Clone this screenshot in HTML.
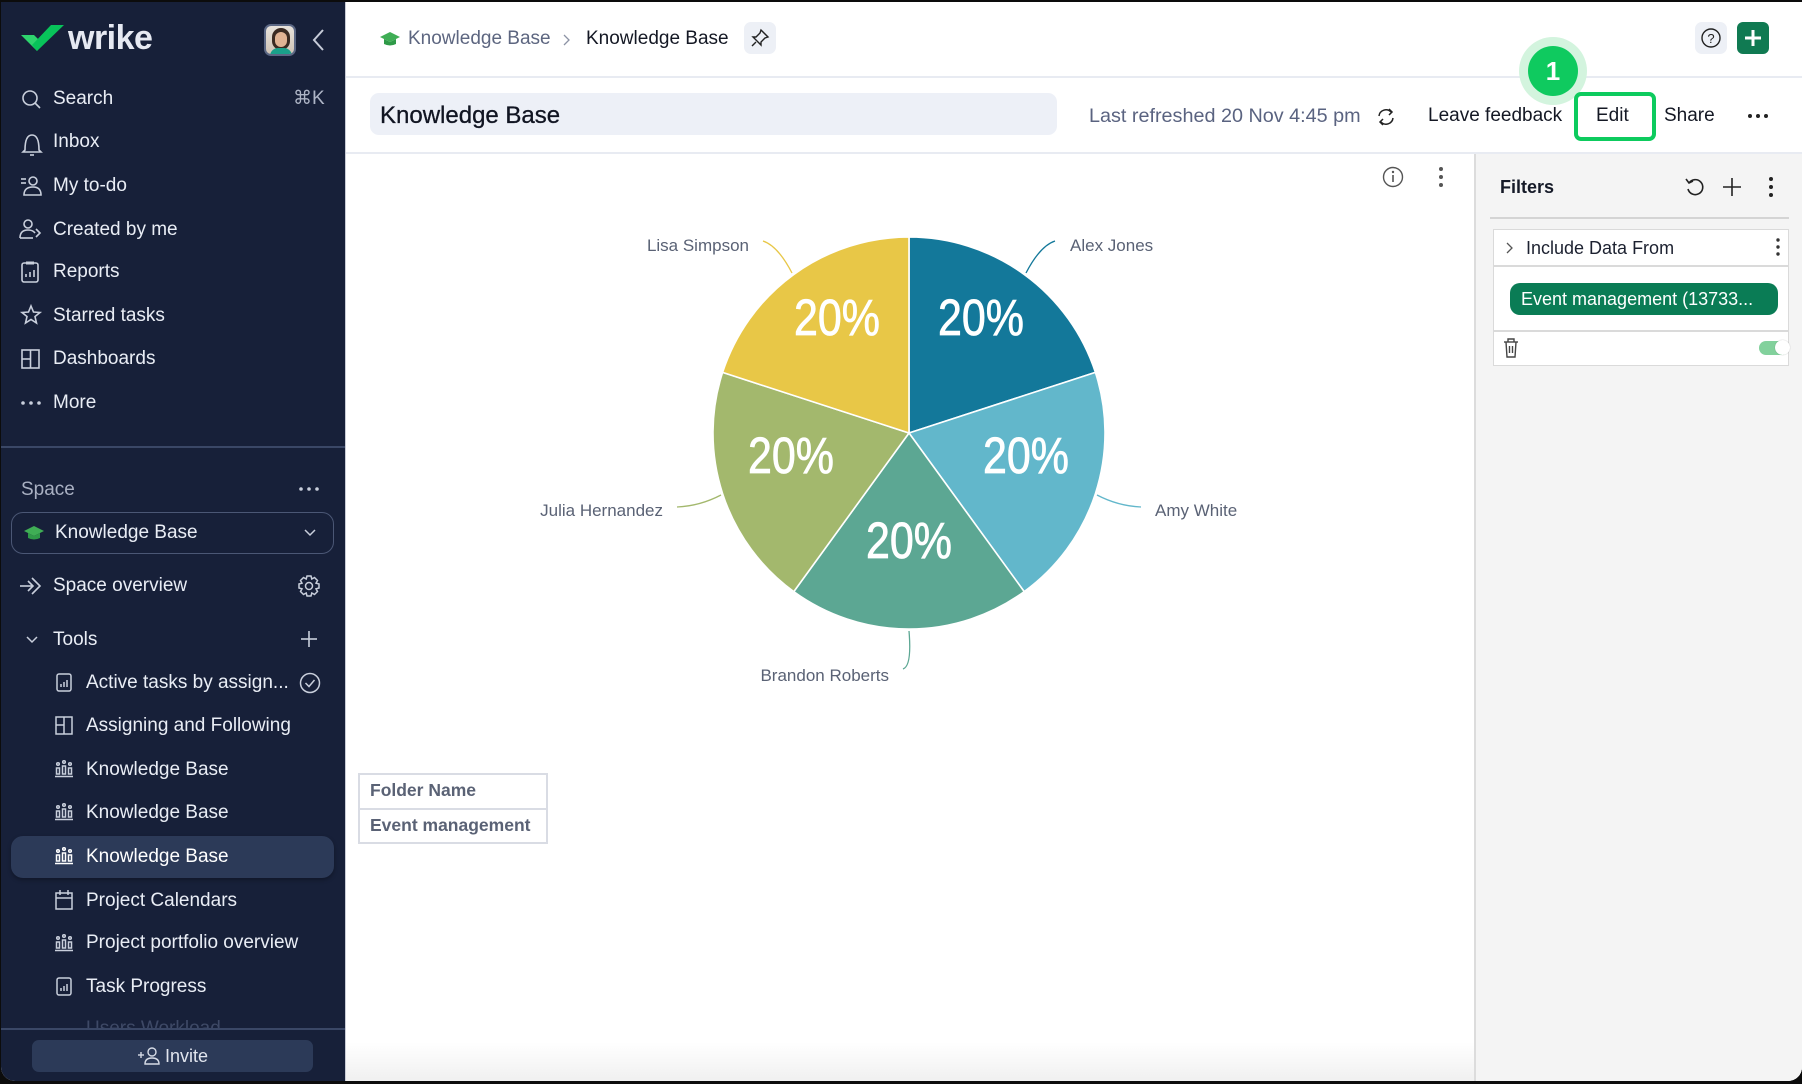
<!DOCTYPE html>
<html><head><meta charset="utf-8"><style>
*{margin:0;padding:0;box-sizing:border-box}
html,body{width:1802px;height:1084px;overflow:hidden;background:#0c0c0c;font-family:"Liberation Sans",sans-serif}
#app{position:absolute;left:1px;top:2px;width:1801px;height:1079px;background:#fff;border-radius:0 0 14px 14px;overflow:hidden}
#side{position:absolute;left:0;top:0;width:344px;height:1079px;background:#172039;color:#e9edf5}
.t{position:absolute;white-space:nowrap;height:24px;line-height:24px;font-size:19px}
.ic{position:absolute}
.sep{position:absolute;height:2px;background:#3a4766}
#main{position:absolute;left:344px;top:0;width:1457px;height:1079px;background:#fff;border-left:1px solid #c9ccd6}
</style></head><body>
<div id="app">
<div id="side">
  <svg class="ic" style="left:0;top:0" width="344" height="70">
    <polygon points="20,33 33,33 41,41 36,49" fill="#2ed46e"/>
    <polygon points="31,43 50,23 63,23 36,49" fill="#08c35a"/>
  </svg>
  <div class="t" style="left:67px;top:19px;height:34px;line-height:34px;font-size:34px;font-weight:bold;color:#e6e9f2;letter-spacing:-0.5px">wrike</div>
  <div class="ic" style="left:263px;top:22px;width:32px;height:32px;border-radius:7px;background:linear-gradient(#e8e3dc,#cfc3b5);border:2px solid #5b6784;overflow:hidden">
    <div style="position:absolute;left:6px;top:2px;width:18px;height:22px;border-radius:9px;background:#3a2a22"></div>
    <div style="position:absolute;left:9px;top:6px;width:12px;height:15px;border-radius:6px;background:#e0b394"></div>
    <div style="position:absolute;left:4px;top:22px;width:22px;height:10px;border-radius:8px 8px 0 0;background:#1aa08a"></div>
  </div>
  <svg class="ic" style="left:310px;top:26px" width="16" height="24"><polyline points="12,2 3,12 12,22" fill="none" stroke="#c6cbd8" stroke-width="2"/></svg>

  <!-- nav icons -->
  <svg class="ic" style="left:0;top:80px" width="60" height="340" fill="none" stroke="#c9cfdc" stroke-width="1.6">
    <circle cx="29" cy="16" r="7"/><line x1="34" y1="21" x2="39" y2="26"/>
    <path d="M24 68 Q24 53 31 53 Q38 53 38 68 L40 70 L22 70 Z"/><line x1="29" y1="73" x2="33" y2="73"/>
    <line x1="20" y1="97" x2="25" y2="97"/><line x1="20" y1="101" x2="25" y2="101"/><circle cx="32" cy="99" r="4"/><path d="M23 113 Q23 105 32 105 Q40 105 40 113 Z"/>
    <circle cx="27" cy="142" r="4"/><path d="M19 156 Q19 148 27 148 Q32 148 34 151"/><line x1="19" y1="156" x2="32" y2="156"/><polyline points="35,147 39,151 35,155"/>
    <rect x="21" y="181" width="16" height="19" rx="2"/><line x1="25" y1="195" x2="25" y2="192"/><line x1="29" y1="195" x2="29" y2="190"/><line x1="33" y1="195" x2="33" y2="188"/><line x1="25" y1="181" x2="33" y2="181" stroke-width="3"/>
    <polygon points="30,224 32.5,230 39,230.5 34,234.5 35.5,241 30,237.5 24.5,241 26,234.5 21,230.5 27.5,230"/>
    <rect x="21" y="268" width="17" height="18"/><line x1="29.5" y1="268" x2="29.5" y2="286"/><line x1="21" y1="277" x2="29.5" y2="277"/>
  </svg>
  <svg class="ic" style="left:0;top:395px" width="60" height="14"><circle cx="22" cy="6" r="1.8" fill="#c9cfdc"/><circle cx="30" cy="6" r="1.8" fill="#c9cfdc"/><circle cx="38" cy="6" r="1.8" fill="#c9cfdc"/></svg>
  <div class="t" style="left:52px;top:85px">Search</div>
  <div class="t" style="left:292px;top:85px;color:#aeb5c6">⌘K</div>
  <div class="t" style="left:52px;top:128px">Inbox</div>
  <div class="t" style="left:52px;top:172px">My to-do</div>
  <div class="t" style="left:52px;top:216px">Created by me</div>
  <div class="t" style="left:52px;top:258px">Reports</div>
  <div class="t" style="left:52px;top:302px">Starred tasks</div>
  <div class="t" style="left:52px;top:345px">Dashboards</div>
  <div class="t" style="left:52px;top:389px">More</div>
  <div class="sep" style="left:0;top:444px;width:344px"></div>

  <div class="t" style="left:20px;top:476px;color:#a9b0c2">Space</div>
  <svg class="ic" style="left:296px;top:482px" width="24" height="10"><circle cx="4" cy="5" r="1.8" fill="#c9cfdc"/><circle cx="12" cy="5" r="1.8" fill="#c9cfdc"/><circle cx="20" cy="5" r="1.8" fill="#c9cfdc"/></svg>
  <div class="ic" style="left:10px;top:510px;width:323px;height:42px;border:1.5px solid #4b5775;border-radius:12px"></div>
  <svg class="ic" style="left:22px;top:522px" width="22" height="18"><polygon points="11,2 21,7 11,12 1,7" fill="#3fae55"/><path d="M5 9 L5 14 Q11 17 17 14 L17 9 L11 12 Z" fill="#2f9a48"/></svg>
  <div class="t" style="left:54px;top:519px">Knowledge Base</div>
  <svg class="ic" style="left:302px;top:526px" width="14" height="10"><polyline points="2,2 7,7 12,2" fill="none" stroke="#c9cfdc" stroke-width="1.5"/></svg>

  <svg class="ic" style="left:18px;top:572px" width="26" height="24" fill="none" stroke="#c9cfdc" stroke-width="1.6"><line x1="1" y1="12" x2="14" y2="12"/><polyline points="9,7 14,12 9,17"/><path d="M13 4 L21 12 L13 20"/></svg>
  <div class="t" style="left:52px;top:572px">Space overview</div>
  <svg class="ic" style="left:297px;top:573px" width="22" height="22" fill="none" stroke="#c9cfdc" stroke-width="1.5"><circle cx="11" cy="11" r="3.5"/><path d="M9 1 L13 1 L13.8 4 L16.5 2.5 L19.5 5.5 L18 8.2 L21 9 L21 13 L18 13.8 L19.5 16.5 L16.5 19.5 L13.8 18 L13 21 L9 21 L8.2 18 L5.5 19.5 L2.5 16.5 L4 13.8 L1 13 L1 9 L4 8.2 L2.5 5.5 L5.5 2.5 L8.2 4 Z"/></svg>

  <svg class="ic" style="left:24px;top:633px" width="14" height="10"><polyline points="2,2 7,7 12,2" fill="none" stroke="#c9cfdc" stroke-width="1.5"/></svg>
  <div class="t" style="left:52px;top:626px">Tools</div>
  <svg class="ic" style="left:299px;top:628px" width="18" height="18"><line x1="9" y1="1" x2="9" y2="17" stroke="#c9cfdc" stroke-width="1.6"/><line x1="1" y1="9" x2="17" y2="9" stroke="#c9cfdc" stroke-width="1.6"/></svg>

  <div class="ic" style="left:10px;top:834px;width:323px;height:42px;background:#2c3a58;border-radius:12px;box-shadow:0 2px 4px rgba(0,0,0,.3)"></div>

  <svg class="ic" style="left:50px;top:660px" width="30" height="340" fill="none" stroke="#c9cfdc" stroke-width="1.5">
    <rect x="6" y="12" width="14" height="17" rx="2"/><line x1="10" y1="25" x2="10" y2="22"/><line x1="13" y1="25" x2="13" y2="20"/><line x1="16" y1="25" x2="16" y2="18"/>
    <rect x="5" y="55" width="16" height="17"/><line x1="13" y1="55" x2="13" y2="72"/><line x1="5" y1="63" x2="13" y2="63"/>
    <g transform="translate(0,98)"><circle cx="7" cy="4" r="1.3"/><circle cx="13" cy="2" r="1.3"/><circle cx="19" cy="4" r="1.3"/><rect x="5.5" y="8" width="3" height="6"/><rect x="11.5" y="6" width="3" height="8"/><rect x="17.5" y="8" width="3" height="6"/><line x1="4" y1="16.5" x2="22" y2="16.5"/></g>
    <g transform="translate(0,141)"><circle cx="7" cy="4" r="1.3"/><circle cx="13" cy="2" r="1.3"/><circle cx="19" cy="4" r="1.3"/><rect x="5.5" y="8" width="3" height="6"/><rect x="11.5" y="6" width="3" height="8"/><rect x="17.5" y="8" width="3" height="6"/><line x1="4" y1="16.5" x2="22" y2="16.5"/></g>
    <g transform="translate(0,185)" stroke="#fff"><circle cx="7" cy="4" r="1.3"/><circle cx="13" cy="2" r="1.3"/><circle cx="19" cy="4" r="1.3"/><rect x="5.5" y="8" width="3" height="6"/><rect x="11.5" y="6" width="3" height="8"/><rect x="17.5" y="8" width="3" height="6"/><line x1="4" y1="16.5" x2="22" y2="16.5"/></g>
    <rect x="5" y="231" width="16" height="16"/><line x1="5" y1="236" x2="21" y2="236"/><line x1="9" y1="228" x2="9" y2="233"/><line x1="17" y1="228" x2="17" y2="233"/>
    <g transform="translate(0,272)"><circle cx="7" cy="4" r="1.3"/><circle cx="13" cy="2" r="1.3"/><circle cx="19" cy="4" r="1.3"/><rect x="5.5" y="8" width="3" height="6"/><rect x="11.5" y="6" width="3" height="8"/><rect x="17.5" y="8" width="3" height="6"/><line x1="4" y1="16.5" x2="22" y2="16.5"/></g>
    <rect x="6" y="316" width="14" height="17" rx="2"/><line x1="10" y1="329" x2="10" y2="326"/><line x1="13" y1="329" x2="13" y2="324"/><line x1="16" y1="329" x2="16" y2="322"/>
  </svg>
  <div class="t" style="left:85px;top:669px">Active tasks by assign...</div>
  <svg class="ic" style="left:297px;top:669px" width="24" height="24"><circle cx="12" cy="12" r="9.5" fill="none" stroke="#c9cfdc" stroke-width="1.5"/><polyline points="7.5,12 11,15.5 16.5,9" fill="none" stroke="#c9cfdc" stroke-width="1.5"/></svg>
  <div class="t" style="left:85px;top:712px">Assigning and Following</div>
  <div class="t" style="left:85px;top:756px">Knowledge Base</div>
  <div class="t" style="left:85px;top:799px">Knowledge Base</div>
  <div class="t" style="left:85px;top:843px;color:#fff">Knowledge Base</div>
  <div class="t" style="left:85px;top:887px">Project Calendars</div>
  <div class="t" style="left:85px;top:929px">Project portfolio overview</div>
  <div class="t" style="left:85px;top:973px">Task Progress</div>
  <div class="ic" style="left:0;top:1014px;width:344px;height:12px;overflow:hidden"><div class="t" style="left:85px;top:1px;color:#3e4966">Users Workload</div></div>
  <div class="sep" style="left:0;top:1026px;width:344px"></div>
  <div class="ic" style="left:31px;top:1038px;width:281px;height:32px;background:#2c3a58;border-radius:7px"></div>
  <svg class="ic" style="left:136px;top:1044px" width="26" height="20" fill="none" stroke="#d6dbe6" stroke-width="1.4"><line x1="1" y1="9" x2="7" y2="9"/><line x1="4" y1="6" x2="4" y2="12"/><circle cx="15" cy="6" r="4"/><path d="M8 18 Q8 12 15 12 Q22 12 22 18 Z"/></svg>
  <div class="t" style="left:164px;top:1042px;font-size:18px;color:#e1e5ee">Invite</div>
</div>

<div id="main">
  <!-- header row 1 -->
  <svg class="ic" style="left:33px;top:28px" width="22" height="18"><polygon points="11,2 21,7 11,12 1,7" fill="#3fae55"/><path d="M5 9 L5 14 Q11 17 17 14 L17 9 L11 12 Z" fill="#2f9a48"/></svg>
  <div class="t" style="left:62px;top:25px;color:#5d6680">Knowledge Base</div>
  <svg class="ic" style="left:216px;top:31px" width="10" height="14"><polyline points="2,2 7,7 2,12" fill="none" stroke="#8c93a5" stroke-width="1.3"/></svg>
  <div class="t" style="left:240px;top:25px;color:#141824">Knowledge Base</div>
  <div class="ic" style="left:398px;top:20px;width:32px;height:32px;background:#edf0f6;border-radius:7px"></div>
  <svg class="ic" style="left:403px;top:25px" width="22" height="22" fill="none" stroke="#222" stroke-width="1.4"><path d="M12 3 L19 10 L16 11 L12 15 L12 18 L4 10 L7 10 L11 6 Z"/><line x1="7" y1="15" x2="3" y2="19"/></svg>
  <div class="ic" style="left:1349px;top:20px;width:32px;height:32px;background:#edf0f6;border-radius:7px"></div>
  <svg class="ic" style="left:1354px;top:25px" width="22" height="22"><circle cx="11" cy="11" r="9" fill="none" stroke="#222" stroke-width="1.4"/><text x="11" y="16" font-family="Liberation Sans" font-size="13" text-anchor="middle" fill="#222">?</text></svg>
  <div class="ic" style="left:1391px;top:20px;width:32px;height:32px;background:#107a52;border-radius:6px"></div>
  <svg class="ic" style="left:1397px;top:26px" width="20" height="20"><line x1="10" y1="2" x2="10" y2="18" stroke="#fff" stroke-width="3"/><line x1="2" y1="10" x2="18" y2="10" stroke="#fff" stroke-width="3"/></svg>
  <div class="ic" style="left:0;top:74px;width:1457px;height:2px;background:#e8ebf2"></div>

  <!-- header row 2 -->
  <div class="ic" style="left:24px;top:91px;width:687px;height:42px;background:#edf0f7;border-radius:9px"></div>
  <div class="t" style="left:34px;top:100px;height:28px;line-height:28px;font-size:24px;color:#111522;-webkit-text-stroke:0.3px #111522">Knowledge Base</div>
  <div class="t" style="left:743px;top:102px;font-size:19.8px;color:#5a6380">Last refreshed 20 Nov 4:45 pm</div>
  <svg class="ic" style="left:1029px;top:104px" width="22" height="22" fill="none" stroke="#222" stroke-width="1.5"><path d="M4 10 A7 7 0 0 1 16 6"/><polyline points="14,3 17,6 14,9"/><path d="M18 12 A7 7 0 0 1 6 16"/><polyline points="8,19 5,16 8,13"/></svg>
  <div class="t" style="left:1082px;top:102px;color:#141824">Leave feedback</div>
  <div class="ic" style="left:1173px;top:35px;width:68px;height:68px;border-radius:50%;background:#d3f4de"></div>
  <div class="ic" style="left:1182px;top:44px;width:50px;height:50px;border-radius:50%;background:#0fca5f;color:#fff;font-size:26px;font-weight:bold;text-align:center;line-height:50px">1</div>
  <div class="ic" style="left:1228px;top:90px;width:82px;height:49px;border:4px solid #0dcb5e;border-radius:7px;background:#fff"></div>
  <div class="t" style="left:1250px;top:102px;color:#141824">Edit</div>
  <div class="t" style="left:1318px;top:102px;color:#141824">Share</div>
  <svg class="ic" style="left:1400px;top:110px" width="24" height="8"><circle cx="4" cy="4" r="2" fill="#222"/><circle cx="12" cy="4" r="2" fill="#222"/><circle cx="20" cy="4" r="2" fill="#222"/></svg>
  <div class="ic" style="left:0;top:150px;width:1457px;height:2px;background:#e8ebf2"></div>

  <!-- chart widget icons -->
  <svg class="ic" style="left:1035px;top:163px" width="24" height="24"><circle cx="12" cy="12" r="9.5" fill="none" stroke="#555" stroke-width="1.4"/><line x1="12" y1="10" x2="12" y2="17" stroke="#555" stroke-width="1.6"/><circle cx="12" cy="7" r="1.2" fill="#555"/></svg>
  <svg class="ic" style="left:1091px;top:164px" width="8" height="22"><circle cx="4" cy="3" r="2" fill="#555"/><circle cx="4" cy="11" r="2" fill="#555"/><circle cx="4" cy="19" r="2" fill="#555"/></svg>

  <!-- bottom shade -->
  <div class="ic" style="left:0;top:1040px;width:1130px;height:39px;background:linear-gradient(rgba(0,0,0,0),rgba(0,0,0,0.06))"></div>

  <!-- table -->
  <div class="ic" style="left:12px;top:771px;width:190px;height:71px;border:2px solid #d9dce4"></div>
  <div class="ic" style="left:12px;top:806px;width:190px;height:2px;background:#d9dce4"></div>
  <div class="t" style="left:24px;top:776px;font-size:17.5px;font-weight:bold;color:#5a6275">Folder Name</div>
  <div class="t" style="left:24px;top:811px;font-size:17.5px;font-weight:bold;color:#5a6275">Event management</div>

  <!-- filters panel -->
  <div class="ic" style="left:1128px;top:152px;width:329px;height:927px;background:#f4f4f4;border-left:2px solid #dcdcdc"></div>
  <div class="t" style="left:1154px;top:173px;font-size:18px;font-weight:bold;color:#151a28">Filters</div>
  <svg class="ic" style="left:1337px;top:173px" width="24" height="24" fill="none" stroke="#222" stroke-width="1.6"><path d="M6 8 A7.5 7.5 0 1 1 5 14"/><polyline points="3,4 6,8 10,6"/></svg>
  <svg class="ic" style="left:1376px;top:175px" width="20" height="20"><line x1="10" y1="1" x2="10" y2="19" stroke="#222" stroke-width="1.6"/><line x1="1" y1="10" x2="19" y2="10" stroke="#222" stroke-width="1.6"/></svg>
  <svg class="ic" style="left:1421px;top:174px" width="8" height="22"><circle cx="4" cy="3" r="2" fill="#222"/><circle cx="4" cy="11" r="2" fill="#222"/><circle cx="4" cy="19" r="2" fill="#222"/></svg>
  <div class="ic" style="left:1144px;top:215px;width:299px;height:2px;background:#d4d4d4"></div>
  <div class="ic" style="left:1147px;top:227px;width:296px;height:137px;background:#fff;border:1.5px solid #dadada"></div>
  <svg class="ic" style="left:1159px;top:239px" width="10" height="14"><polyline points="2,2 7,7 2,12" fill="none" stroke="#555" stroke-width="1.3"/></svg>
  <div class="t" style="left:1180px;top:234px;font-size:18px;color:#1c2130">Include Data From</div>
  <svg class="ic" style="left:1428px;top:235px" width="8" height="20"><circle cx="4" cy="3" r="1.7" fill="#333"/><circle cx="4" cy="10" r="1.7" fill="#333"/><circle cx="4" cy="17" r="1.7" fill="#333"/></svg>
  <div class="ic" style="left:1147px;top:263px;width:296px;height:1.5px;background:#dadada"></div>
  <div class="ic" style="left:1164px;top:281px;width:268px;height:32px;background:#0a7c55;border-radius:10px"></div>
  <div class="t" style="left:1175px;top:285px;font-size:18px;color:#fff">Event management (13733...</div>
  <div class="ic" style="left:1147px;top:328px;width:296px;height:1.5px;background:#dadada"></div>
  <svg class="ic" style="left:1156px;top:335px" width="18" height="22" fill="none" stroke="#444" stroke-width="1.4"><line x1="2" y1="5" x2="16" y2="5"/><path d="M6 5 L6 2 L12 2 L12 5"/><path d="M4 5 L5 20 L13 20 L14 5"/><line x1="7.5" y1="9" x2="7.5" y2="16"/><line x1="10.5" y1="9" x2="10.5" y2="16"/></svg>
  <div class="ic" style="left:1413px;top:339px;width:30px;height:14px;border-radius:7px;background:#82d19c"></div>
  <div class="ic" style="left:1429px;top:338px;width:15px;height:15px;border-radius:50%;background:#fff;box-shadow:0 0 1px rgba(0,0,0,.3)"></div>
</div>

<!-- pie chart -->
<svg class="ic" style="left:0;top:0" width="1500" height="1079" viewBox="1 2 1500 1079">
  <g stroke="#fff" stroke-width="1.6" stroke-linejoin="round">
    <path d="M909,433 L909,237 A196,196 0 0 1 1095.4,372.4 Z" fill="#13789a"/>
    <path d="M909,433 L1095.4,372.4 A196,196 0 0 1 1024.2,591.6 Z" fill="#62b7cb"/>
    <path d="M909,433 L1024.2,591.6 A196,196 0 0 1 793.8,591.6 Z" fill="#5ca793"/>
    <path d="M909,433 L793.8,591.6 A196,196 0 0 1 722.6,372.4 Z" fill="#a3b86d"/>
    <path d="M909,433 L722.6,372.4 A196,196 0 0 1 909,237 Z" fill="#e8c747"/>
  </g>
  <g fill="none" stroke-width="1.3">
    <path d="M1026,273 Q1040,246 1055,241" stroke="#13789a"/>
    <path d="M792,273 Q778,246 763,241" stroke="#e8c747"/>
    <path d="M1097,495 Q1118,506 1141,507" stroke="#62b7cb"/>
    <path d="M721,495 Q700,506 677,507" stroke="#a3b86d"/>
    <path d="M909,631 Q912,666 903,669" stroke="#5ca793"/>
  </g>
  <g font-family="Liberation Sans, sans-serif" font-size="51" fill="#fff" text-anchor="middle" stroke="#fff" stroke-width="0.8">
    <text x="981" y="335" textLength="86" lengthAdjust="spacingAndGlyphs">20%</text>
    <text x="837" y="335" textLength="86" lengthAdjust="spacingAndGlyphs">20%</text>
    <text x="1026" y="473" textLength="86" lengthAdjust="spacingAndGlyphs">20%</text>
    <text x="791" y="473" textLength="86" lengthAdjust="spacingAndGlyphs">20%</text>
    <text x="909" y="558" textLength="86" lengthAdjust="spacingAndGlyphs">20%</text>
  </g>
  <g font-family="Liberation Sans, sans-serif" font-size="17" fill="#5a6275">
    <text x="1070" y="251">Alex Jones</text>
    <text x="749" y="251" text-anchor="end">Lisa Simpson</text>
    <text x="1155" y="516">Amy White</text>
    <text x="663" y="516" text-anchor="end">Julia Hernandez</text>
    <text x="889" y="681" text-anchor="end">Brandon Roberts</text>
  </g>
</svg>
</div>
</body></html>
